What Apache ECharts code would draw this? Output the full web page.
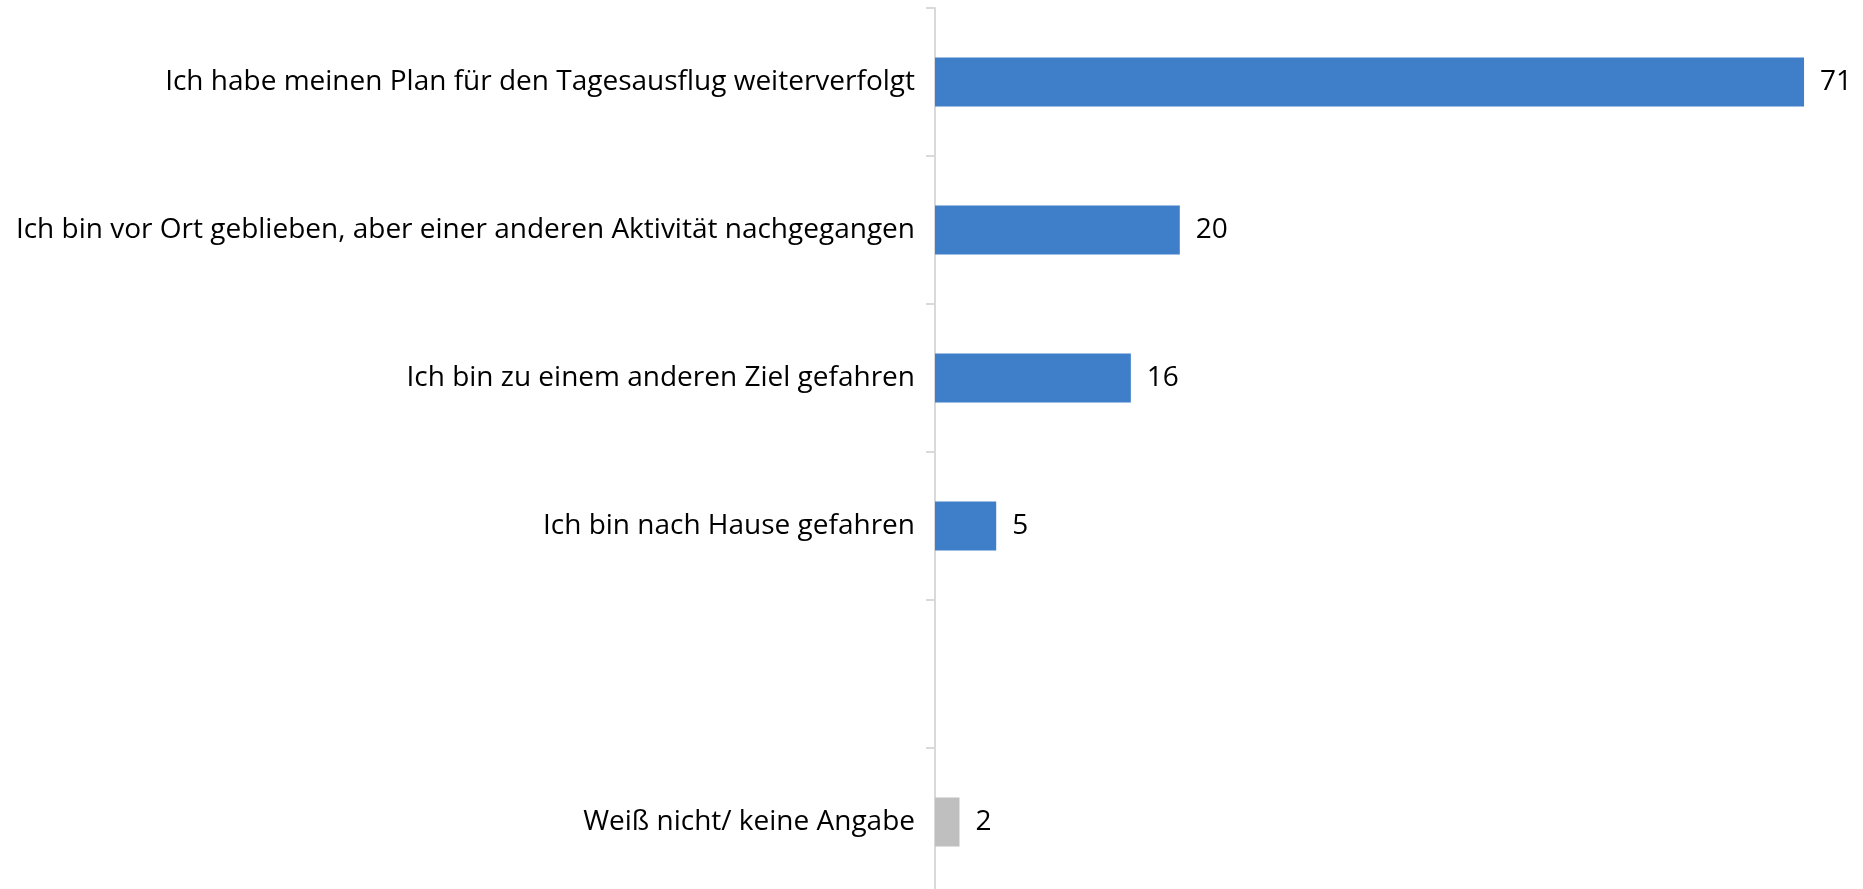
<!DOCTYPE html>
<html><head><meta charset="utf-8">
<script src="https://cdn.jsdelivr.net/npm/echarts@6/dist/echarts.min.js"></script>
<style>html,body{margin:0;padding:0;background:#fff;overflow:hidden}#c{width:1863px;height:900px}</style>
</head><body><div id="c"></div>
<script>
const categories = [
  "Ich habe meinen Plan für den Tagesausflug weiterverfolgt",
  "Ich bin vor Ort geblieben, aber einer anderen Aktivität nachgegangen",
  "Ich bin zu einem anderen Ziel gefahren",
  "Ich bin nach Hause gefahren",
  "",
  "Weiß nicht/ keine Angabe"
];
const values = [71, 20, 16, 5, null, 2];
const barColors = ["#3F7FCA", "#3F7FCA", "#3F7FCA", "#3F7FCA", "#3F7FCA", "#BFBFBF"];

const FONT = "Open Sans";
const chart = echarts.init(document.getElementById('c'));
chart.setOption({
  animation: false,
  grid: { left: 935, top: 8, width: 918, height: 888, containLabel: false },
  xAxis: { type: 'value', min: 0, max: 75, show: false },
  yAxis: {
    type: 'category', data: categories, inverse: true,
    axisLine: { show: true, lineStyle: { color: '#D9D9D9', width: 2 } },
    axisTick: { show: true, length: 9, lineStyle: { color: '#D9D9D9', width: 2 } },
    axisLabel: { color: '#000', fontFamily: FONT, fontSize: 28, margin: 20 }
  },
  series: [{
    type: 'bar', barWidth: '33%',
    data: values.map((v, i) => ({ value: v, itemStyle: { color: barColors[i] } })),
    label: { show: true, position: 'right', distance: 16, color: '#000', fontFamily: FONT, fontSize: 28 }
  }]
});
</script></body></html>
